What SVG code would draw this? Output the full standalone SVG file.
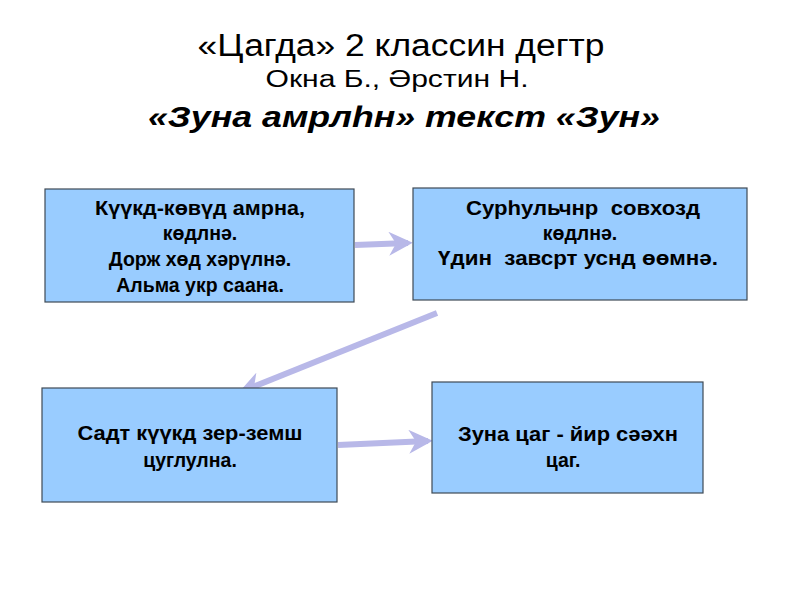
<svg xmlns="http://www.w3.org/2000/svg" width="800" height="600" viewBox="0 0 800 600">
<defs>
<style>
.t{font-family:"Liberation Sans",Arial,sans-serif;text-anchor:middle;fill:#000}
.box{fill:#99ccff;stroke:#3f4a55;stroke-width:1.2}
.bt{font-family:"Liberation Sans",Arial,sans-serif;font-weight:bold;font-size:19.5px;text-anchor:middle;fill:#000}
.c{stroke:#b8b8e8;stroke-width:6;fill:none;stroke-linecap:butt}
</style>
<marker id="ah" viewBox="0 0 10 10" refX="8" refY="5" markerWidth="4" markerHeight="4" orient="auto" markerUnits="strokeWidth">
<path d="M0,0 L10,5 L0,10 L3,5 Z" fill="#b8b8e8"/>
</marker>
</defs>
<rect width="800" height="600" fill="#fff"/>
<g id="title">
<text class="t" x="401" y="56" font-size="31" textLength="407" lengthAdjust="spacingAndGlyphs">«Цагда» 2 классин дегтр</text>
<text class="t" x="397" y="87" font-size="23" textLength="263" lengthAdjust="spacingAndGlyphs">Окна Б., Әрстин Н.</text>
<text class="t" x="404" y="127" font-size="30" font-weight="bold" font-style="italic" textLength="512" lengthAdjust="spacingAndGlyphs">«Зуна амрлһн» текст «Зун»</text>
</g>
<g id="connectors">
<line class="c" x1="355" y1="245" x2="408" y2="243" marker-end="url(#ah)"/>
<line class="c" x1="437" y1="313" x2="243" y2="391" marker-end="url(#ah)"/>
<line class="c" x1="338" y1="445" x2="428" y2="441" marker-end="url(#ah)"/>
</g>
<g id="n1">
<rect class="box" x="45" y="189" width="309" height="113"/>
<text class="bt" x="200" y="215" textLength="210" lengthAdjust="spacingAndGlyphs">Күүкд-көвүд амрна,</text>
<text class="bt" x="200" y="240">көдлнә.</text>
<text class="bt" x="200" y="266">Дорж хөд хәрүлнә.</text>
<text class="bt" x="200" y="292">Альма укр саана.</text>
</g>
<g id="n2">
<rect class="box" x="413" y="188" width="334" height="112"/>
<text class="bt" x="583" y="215" xml:space="preserve" textLength="234" lengthAdjust="spacingAndGlyphs">Сурһульчнр  совхозд</text>
<text class="bt" x="580" y="240">көдлнә.</text>
<text class="bt" x="578" y="265" xml:space="preserve" textLength="280" lengthAdjust="spacingAndGlyphs">Үдин  завсрт уснд өөмнә.</text>
</g>
<g id="n3">
<rect class="box" x="42" y="388" width="295" height="114"/>
<text class="bt" x="190" y="440" textLength="225" lengthAdjust="spacingAndGlyphs">Садт күүкд зер-земш</text>
<text class="bt" x="190" y="467">цуглулна.</text>
</g>
<g id="n4">
<rect class="box" x="432" y="382" width="271" height="111"/>
<text class="bt" x="568" y="441" textLength="220" lengthAdjust="spacingAndGlyphs">Зуна цаг - йир сәәхн</text>
<text class="bt" x="563" y="467">цаг.</text>
</g>
</svg>
